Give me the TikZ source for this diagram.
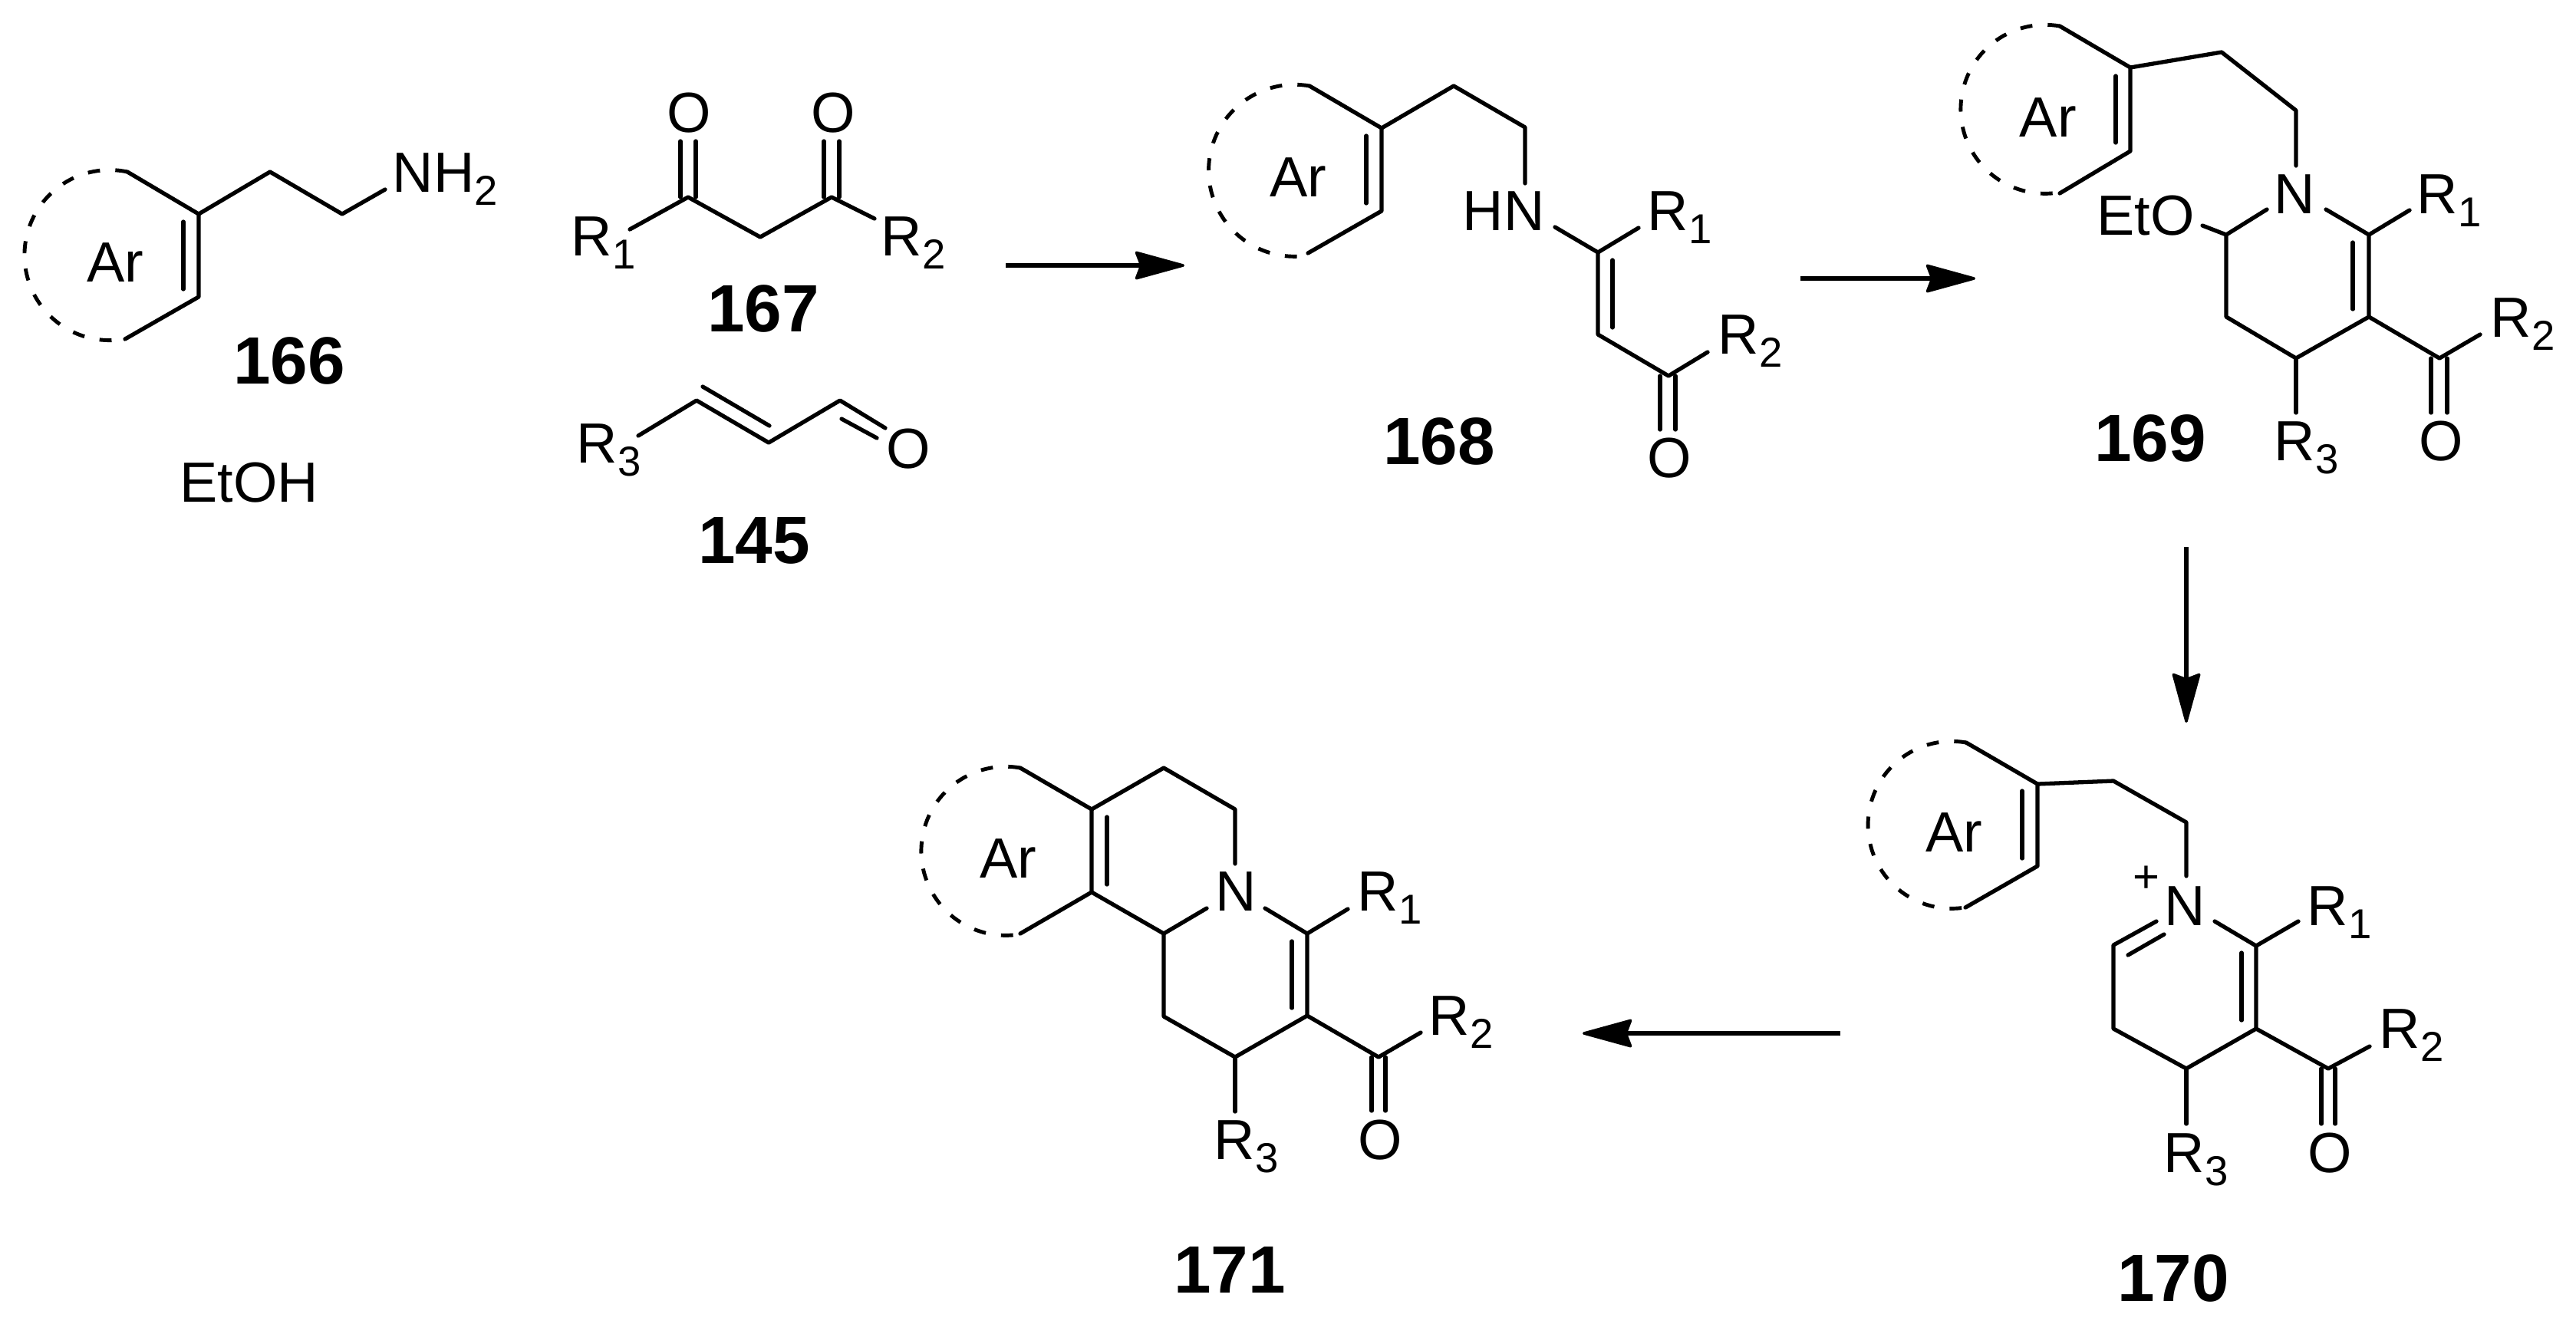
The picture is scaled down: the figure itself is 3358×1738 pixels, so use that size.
\documentclass[tikz,border=0pt]{standalone}
\usepackage{fontspec}
\setmainfont{Liberation Sans}
\usetikzlibrary{arrows.meta}
\newcommand{\sbs}[1]{\raisebox{-5pt}{\fontsize{15.5pt}{16pt}\selectfont #1}}
\tikzstyle{bond} = [line width=1.5pt, line cap=round, line join=round]
\tikzstyle{ring} = [line width=1.4pt, dash pattern=on 4.5pt off 5.7pt]
\tikzstyle{atom} = [inner sep=0pt, anchor=base west, xshift=-0.05cm, font=\fontsize{21pt}{24pt}\selectfont]
\tikzstyle{num} = [inner sep=0pt, anchor=base, font=\fontsize{24.8pt}{28pt}\selectfont\bfseries]
\tikzstyle{arrow} = [line width=1.7pt, -{Stealth[length=0.70cm, width=0.38cm, inset=0.07cm, round, line width=1pt]}]

\begin{document}
\begin{tikzpicture}[x=0.01cm, y=-0.01cm]
    \useasboundingbox (0,0) rectangle (3358,1738);

    % Amine 166
    \coordinate (a_top) at (166,224);
    \coordinate (a_c1) at (259,279);
    \coordinate (a_c2) at (259,387);
    \coordinate (a_bot) at (163,442);
    \coordinate (a_i1) at (239,289);
    \coordinate (a_i2) at (239,377);
    \coordinate (a_c3) at (352,224);
    \coordinate (a_c4) at (446,279);
    \coordinate (a_n) at (502,247);
    \node (a_ar) [atom] at (118,367) {Ar};
    \node (a_nh2) [atom] at (516,250) {NH\sbs{2}};
    \node (n166) [num] at (377,500) {166};
    \node (etoh) [atom] at (239,654) {EtOH};
    \draw [bond] (a_top) -- (a_c1) -- (a_c2) -- (a_bot);
    \draw [bond] (a_i1) -- (a_i2);
    \draw [bond] (a_c1) -- (a_c3) -- (a_c4) -- (a_n);
    \draw [ring] (a_top) arc [start angle=-78, end angle=-281, radius=111];

    % Diketone 167
    \coordinate (b_r1) at (821,299);
    \coordinate (b_c1) at (897,257);
    \coordinate (b_c2) at (991,309);
    \coordinate (b_c3) at (1084,257);
    \coordinate (b_r2) at (1140,285);
    \coordinate (b_o1a) at (887,257);
    \coordinate (b_o1b) at (887,184);
    \coordinate (b_o1c) at (907,257);
    \coordinate (b_o1d) at (907,184);
    \coordinate (b_o2a) at (1074,257);
    \coordinate (b_o2b) at (1074,184);
    \coordinate (b_o2c) at (1094,257);
    \coordinate (b_o2d) at (1094,184);
    \node (b_lr1) [atom] at (749,333) {R\sbs{1}};
    \node (b_lr2) [atom] at (1153,333) {R\sbs{2}};
    \node (b_lo1) [atom] at (874,172) {O};
    \node (b_lo2) [atom] at (1062,172) {O};
    \node (n167) [num] at (995,432) {167};
    \draw [bond] (b_r1) -- (b_c1) -- (b_c2) -- (b_c3) -- (b_r2);
    \draw [bond] (b_o1a) -- (b_o1b);
    \draw [bond] (b_o1c) -- (b_o1d);
    \draw [bond] (b_o2a) -- (b_o2b);
    \draw [bond] (b_o2c) -- (b_o2d);

    % Enal 145
    \coordinate (c_r3) at (832,568);
    \coordinate (c_c1) at (908,522);
    \coordinate (c_c2) at (1002,577);
    \coordinate (c_c3) at (1095,522);
    \coordinate (c_o) at (1154,558);
    \coordinate (c_i1) at (916,504);
    \coordinate (c_i2) at (1003,555);
    \coordinate (c_i3) at (1097,546);
    \coordinate (c_i4) at (1143,571);
    \node (c_lr3) [atom] at (756,603) {R\sbs{3}};
    \node (c_lo) [atom] at (1160,610) {O};
    \node (n145) [num] at (983,734) {145};
    \draw [bond] (c_r3) -- (c_c1) -- (c_c2) -- (c_c3) -- (c_o);
    \draw [bond] (c_i1) -- (c_i2);
    \draw [bond] (c_i3) -- (c_i4);

    % Enaminone 168
    \coordinate (d_top) at (1707,112);
    \coordinate (d_c1) at (1801,167);
    \coordinate (d_c2) at (1801,275);
    \coordinate (d_bot) at (1705,330);
    \coordinate (d_i1) at (1781,177);
    \coordinate (d_i2) at (1781,265);
    \coordinate (d_c3) at (1895,112);
    \coordinate (d_c4) at (1988,166);
    \coordinate (d_n) at (1988,239);
    \coordinate (d_n2) at (2027,296);
    \coordinate (d_c5) at (2083,329);
    \coordinate (d_r1) at (2136,297);
    \coordinate (d_c6) at (2083,436);
    \coordinate (d_i3) at (2102,339);
    \coordinate (d_i4) at (2102,427);
    \coordinate (d_c7) at (2175,490);
    \coordinate (d_r2) at (2226,459);
    \coordinate (d_o1) at (2164,490);
    \coordinate (d_o2) at (2164,560);
    \coordinate (d_o3) at (2184,490);
    \coordinate (d_o4) at (2184,560);
    \node (d_ar) [atom] at (1660,256) {Ar};
    \node (d_hn) [atom] at (1911,300) {HN};
    \node (d_lr1) [atom] at (2152,300) {R\sbs{1}};
    \node (d_lr2) [atom] at (2244,461) {R\sbs{2}};
    \node (d_lo) [atom] at (2152,622) {O};
    \node (n168) [num] at (1876,605) {168};
    \draw [bond] (d_top) -- (d_c1) -- (d_c2) -- (d_bot);
    \draw [bond] (d_i1) -- (d_i2);
    \draw [bond] (d_c1) -- (d_c3) -- (d_c4) -- (d_n);
    \draw [bond] (d_n2) -- (d_c5) -- (d_r1);
    \draw [bond] (d_c5) -- (d_c6) -- (d_c7) -- (d_r2);
    \draw [bond] (d_i3) -- (d_i4);
    \draw [bond] (d_o1) -- (d_o2);
    \draw [bond] (d_o3) -- (d_o4);
    \draw [ring] (d_top) arc [start angle=-80, end angle=-280, radius=112];

    % Ethoxy ring 169
    \coordinate (e_top) at (2685,34);
    \coordinate (e_c1) at (2777,88);
    \coordinate (e_c2) at (2777,197);
    \coordinate (e_bot) at (2685,252);
    \coordinate (e_i1) at (2758,99);
    \coordinate (e_i2) at (2758,186);
    \coordinate (e_c3) at (2896,68);
    \coordinate (e_c4) at (2993,144);
    \coordinate (e_n) at (2993,216);
    \coordinate (e_n2) at (2955,273);
    \coordinate (e_c5) at (2902,306);
    \coordinate (e_et) at (2871,294);
    \coordinate (e_c6) at (2902,413);
    \coordinate (e_c7) at (2993,467);
    \coordinate (e_c8) at (3088,413);
    \coordinate (e_c9) at (3088,306);
    \coordinate (e_n3) at (3032,273);
    \coordinate (e_r1) at (3141,274);
    \coordinate (e_i3) at (3067,316);
    \coordinate (e_i4) at (3067,403);
    \coordinate (e_c10) at (3180,467);
    \coordinate (e_r2) at (3233,436);
    \coordinate (e_o1) at (3169,467);
    \coordinate (e_o2) at (3169,538);
    \coordinate (e_o3) at (3190,467);
    \coordinate (e_o4) at (3190,538);
    \coordinate (e_r3) at (2993,538);
    \node (e_ar) [atom] at (2637,178) {Ar};
    \node (e_ln) [atom] at (2969,278) {N};
    \node (e_leto) [atom] at (2738,306) {EtO};
    \node (e_lr1) [atom] at (3155,278) {R\sbs{1}};
    \node (e_lr2) [atom] at (3251,439) {R\sbs{2}};
    \node (e_lr3) [atom] at (2969,600) {R\sbs{3}};
    \node (e_lo) [atom] at (3158,600) {O};
    \node (n169) [num] at (2803,601) {169};
    \draw [bond] (e_top) -- (e_c1) -- (e_c2) -- (e_bot);
    \draw [bond] (e_i1) -- (e_i2);
    \draw [bond] (e_c1) -- (e_c3) -- (e_c4) -- (e_n);
    \draw [bond] (e_n2) -- (e_c5) -- (e_c6) -- (e_c7) -- (e_c8) -- (e_c9) -- (e_n3);
    \draw [bond] (e_et) -- (e_c5);
    \draw [bond] (e_c9) -- (e_r1);
    \draw [bond] (e_i3) -- (e_i4);
    \draw [bond] (e_c8) -- (e_c10) -- (e_r2);
    \draw [bond] (e_o1) -- (e_o2);
    \draw [bond] (e_o3) -- (e_o4);
    \draw [bond] (e_c7) -- (e_r3);
    \draw [ring] (e_top) arc [start angle=-80, end angle=-280, radius=110];

    % Pyridinium 170
    \coordinate (f_top) at (2563,968);
    \coordinate (f_c1) at (2656,1022);
    \coordinate (f_c2) at (2656,1129);
    \coordinate (f_bot) at (2562,1183);
    \coordinate (f_i1) at (2636,1031);
    \coordinate (f_i2) at (2636,1119);
    \coordinate (f_c3) at (2755,1018);
    \coordinate (f_c4) at (2850,1072);
    \coordinate (f_n) at (2850,1142);
    \coordinate (f_n2) at (2811,1201);
    \coordinate (f_c5) at (2755,1232);
    \coordinate (f_i3) at (2821,1218);
    \coordinate (f_i4) at (2774,1245);
    \coordinate (f_c6) at (2755,1341);
    \coordinate (f_c7) at (2850,1393);
    \coordinate (f_c8) at (2941,1341);
    \coordinate (f_c9) at (2941,1233);
    \coordinate (f_n3) at (2887,1201);
    \coordinate (f_r1) at (2996,1201);
    \coordinate (f_i5) at (2922,1242);
    \coordinate (f_i6) at (2922,1330);
    \coordinate (f_c10) at (3035,1393);
    \coordinate (f_r2) at (3089,1364);
    \coordinate (f_o1) at (3026,1393);
    \coordinate (f_o2) at (3026,1465);
    \coordinate (f_o3) at (3044,1393);
    \coordinate (f_o4) at (3044,1465);
    \coordinate (f_r3) at (2850,1465);
    \node (f_ar) [atom] at (2515,1110) {Ar};
    \node (f_ln) [atom] at (2826,1206) {N};
    \node (f_plus) [inner sep=0pt, font=\fontsize{17pt}{18pt}\selectfont] at (2798,1146) {+};
    \node (f_lr1) [atom] at (3012,1206) {R\sbs{1}};
    \node (f_lr2) [atom] at (3106,1366) {R\sbs{2}};
    \node (f_lr3) [atom] at (2825,1528) {R\sbs{3}};
    \node (f_lo) [atom] at (3013,1528) {O};
    \node (n170) [num] at (2833,1696) {170};
    \draw [bond] (f_top) -- (f_c1) -- (f_c2) -- (f_bot);
    \draw [bond] (f_i1) -- (f_i2);
    \draw [bond] (f_c1) -- (f_c3) -- (f_c4) -- (f_n);
    \draw [bond] (f_n2) -- (f_c5) -- (f_c6) -- (f_c7) -- (f_c8) -- (f_c9) -- (f_n3);
    \draw [bond] (f_i3) -- (f_i4);
    \draw [bond] (f_c9) -- (f_r1);
    \draw [bond] (f_i5) -- (f_i6);
    \draw [bond] (f_c8) -- (f_c10) -- (f_r2);
    \draw [bond] (f_o1) -- (f_o2);
    \draw [bond] (f_o3) -- (f_o4);
    \draw [bond] (f_c7) -- (f_r3);
    \draw [ring] (f_top) arc [start angle=-80, end angle=-280, radius=109];

    % Tricycle 171
    \coordinate (g_top) at (1330,1001);
    \coordinate (g_c1) at (1423,1055);
    \coordinate (g_c2) at (1423,1163);
    \coordinate (g_bot) at (1330,1217);
    \coordinate (g_i1) at (1443,1065);
    \coordinate (g_i2) at (1443,1153);
    \coordinate (g_c3) at (1517,1001);
    \coordinate (g_c4) at (1610,1055);
    \coordinate (g_n) at (1610,1126);
    \coordinate (g_c5) at (1517,1217);
    \coordinate (g_n2) at (1573,1184);
    \coordinate (g_c6) at (1517,1325);
    \coordinate (g_c7) at (1610,1378);
    \coordinate (g_c8) at (1704,1324);
    \coordinate (g_c9) at (1704,1217);
    \coordinate (g_n3) at (1649,1184);
    \coordinate (g_r1) at (1757,1185);
    \coordinate (g_i3) at (1684,1227);
    \coordinate (g_i4) at (1684,1314);
    \coordinate (g_c10) at (1797,1378);
    \coordinate (g_r2) at (1852,1346);
    \coordinate (g_o1) at (1788,1378);
    \coordinate (g_o2) at (1788,1448);
    \coordinate (g_o3) at (1806,1378);
    \coordinate (g_o4) at (1806,1448);
    \coordinate (g_r3) at (1610,1449);
    \node (g_ar) [atom] at (1282,1144) {Ar};
    \node (g_ln) [atom] at (1589,1187) {N};
    \node (g_lr1) [atom] at (1774,1187) {R\sbs{1}};
    \node (g_lr2) [atom] at (1867,1349) {R\sbs{2}};
    \node (g_lr3) [atom] at (1587,1511) {R\sbs{3}};
    \node (g_lo) [atom] at (1775,1511) {O};
    \node (n171) [num] at (1603,1685) {171};
    \draw [bond] (g_top) -- (g_c1) -- (g_c2) -- (g_bot);
    \draw [bond] (g_i1) -- (g_i2);
    \draw [bond] (g_c1) -- (g_c3) -- (g_c4) -- (g_n);
    \draw [bond] (g_c2) -- (g_c5) -- (g_n2);
    \draw [bond] (g_c5) -- (g_c6) -- (g_c7) -- (g_c8) -- (g_c9) -- (g_n3);
    \draw [bond] (g_c9) -- (g_r1);
    \draw [bond] (g_i3) -- (g_i4);
    \draw [bond] (g_c8) -- (g_c10) -- (g_r2);
    \draw [bond] (g_o1) -- (g_o2);
    \draw [bond] (g_o3) -- (g_o4);
    \draw [bond] (g_c7) -- (g_r3);
    \draw [ring] (g_top) arc [start angle=-80, end angle=-280, radius=110];

    % ==== Arrows
    \coordinate (s1) at (1311,346);
    \coordinate (t1) at (1544,346);
    \coordinate (s2) at (2347,363);
    \coordinate (t2) at (2575,363);
    \coordinate (s3) at (2850,713);
    \coordinate (t3) at (2850,942);
    \coordinate (s4) at (2399,1347);
    \coordinate (t4) at (2063,1347);
    \draw [arrow] (s1) -- (t1);
    \draw [arrow] (s2) -- (t2);
    \draw [arrow] (s3) -- (t3);
    \draw [arrow] (s4) -- (t4);

\end{tikzpicture}
\end{document}
